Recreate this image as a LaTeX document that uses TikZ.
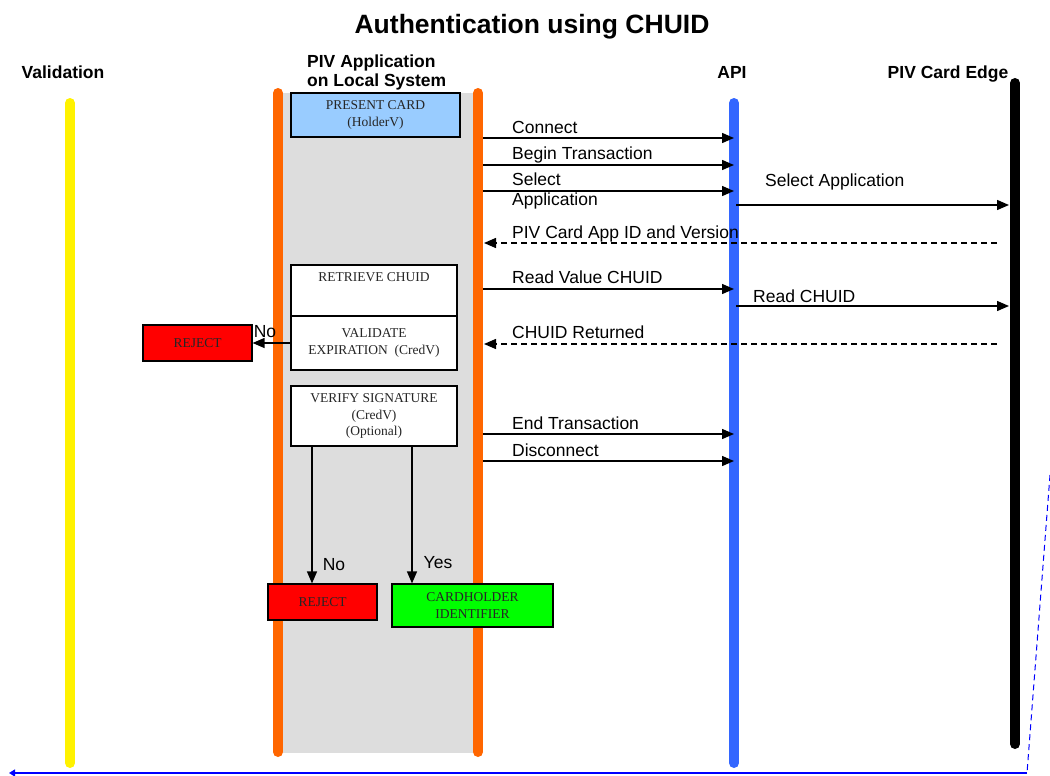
\documentclass[tikz,border=0pt]{standalone}
\usepackage{fontspec}
\setmainfont{Liberation Serif}
\newfontfamily\arial{Liberation Sans}
\usetikzlibrary{arrows.meta}
\definecolor{laneorange}{HTML}{FF6600}
\definecolor{laneblue}{HTML}{3366FF}
\definecolor{boxblue}{HTML}{99CCFF}
\definecolor{boxgray}{HTML}{DDDDDD}
\definecolor{boxgreen}{HTML}{00FF00}
\definecolor{boxred}{HTML}{FF0000}
\begin{document}
\begin{tikzpicture}[x=1pt,y=-1pt,
  lane/.style={line width=10pt,line cap=round},
  box/.style={draw=black,line width=1.2pt,align=center,inner sep=0pt,text=black!85,
    font=\fontsize{13.5}{16.5}\selectfont},
  msg/.style={line width=1.4pt,-{Triangle[length=12pt,width=10pt]}},
  ret/.style={msg,dash pattern=on 6pt off 4pt},
  mlabel/.style={font=\arial\fontsize{17.5}{20}\selectfont,inner sep=0pt,align=left},
  head/.style={font=\arial\bfseries\fontsize{17.5}{19}\selectfont,inner sep=0pt,align=left}]
\useasboundingbox (0,0) rectangle (1050,776);

% title and headers
\node[font=\arial\bfseries\fontsize{26.5}{30}\selectfont,inner sep=0pt,anchor=base] (title) at (532,34) {Authentication using CHUID};
\node[head,anchor=base] (hval) at (63,79) {Validation};
\node[head,anchor=base west] (hpiv) at (307,67) {PIV Application};
\node[head,anchor=base west] (hloc) at (307,86) {on Local System};
\node[head,anchor=base] (hapi) at (732,79) {API};
\node[head,anchor=base] (hedge) at (948,79) {PIV Card Edge};

% lanes
\fill[boxgray] (283,93) rectangle (473,753);
\coordinate (valT) at (70,103); \coordinate (valB) at (70,763);
\coordinate (olT) at (278,93); \coordinate (olB) at (278,752);
\coordinate (orT) at (478,93); \coordinate (orB) at (478,752);
\coordinate (apiT) at (734,103); \coordinate (apiB) at (734,763);
\coordinate (edT) at (1015,83); \coordinate (edB) at (1015,744);
\draw[lane,yellow] (valT) -- (valB);
\draw[lane,laneorange] (olT) -- (olB);
\draw[lane,laneorange] (orT) -- (orB);
\draw[lane,laneblue] (apiT) -- (apiB);
\draw[lane,black] (edT) -- (edB);

% boxes
\node[box,fill=boxblue,minimum width=169pt,minimum height=44pt] (present) at (375.5,115) {PRESENT CARD\\(HolderV)};
\node[box,fill=white,minimum width=166pt,minimum height=51pt,
  label={[font=\fontsize{13.5}{16.5}\selectfont,text=black!85,anchor=north,inner sep=0pt,yshift=-8pt]north:RETRIEVE CHUID}] (retrieve) at (374,290.5) {};
\node[box,fill=white,minimum width=166pt,minimum height=54pt] (validate) at (374,343) {VALIDATE\\EXPIRATION\ \ (CredV)};
\node[box,fill=white,minimum width=166pt,minimum height=60pt] (verify) at (374,416) {VERIFY SIGNATURE\\(CredV)\\(Optional)};
\node[box,fill=boxred,minimum width=109pt,minimum height=36pt] (rej1) at (197.5,343) {REJECT};
\node[box,fill=boxred,minimum width=109pt,minimum height=36pt] (rej2) at (322.5,602) {REJECT};
\node[box,fill=boxgreen,minimum width=161pt,minimum height=43pt] (holder) at (472.5,605.5) {CARDHOLDER\\IDENTIFIER};

% internal flow
\draw[msg] (validate.west) -- (rej1.east);
\node[mlabel,anchor=base] (no1) at (265,337) {No};
\coordinate (vNo) at (312,446); \coordinate (vYes) at (412,446);
\draw[msg] (vNo) -- (vNo |- rej2.north);
\draw[msg] (vYes) -- (vYes |- holder.north);
\node[mlabel,anchor=base] (no2) at (334,570) {No};
\node[mlabel,anchor=base] (yes) at (438,568) {Yes};

% messages
\coordinate (m1s) at (483,138); \coordinate (m1e) at (734,138);
\coordinate (m2s) at (483,165); \coordinate (m2e) at (734,165);
\coordinate (m3s) at (483,191); \coordinate (m3e) at (734,191);
\coordinate (m4s) at (736,205); \coordinate (m4e) at (1009,205);
\coordinate (m5s) at (997,243); \coordinate (m5e) at (484,243);
\coordinate (m6s) at (483,289); \coordinate (m6e) at (734,289);
\coordinate (m7s) at (736,306); \coordinate (m7e) at (1009,306);
\coordinate (m8s) at (997,344); \coordinate (m8e) at (484,344);
\coordinate (m9s) at (483,434); \coordinate (m9e) at (734,434);
\coordinate (m10s) at (483,461); \coordinate (m10e) at (734,461);
\draw[msg] (m1s) -- (m1e);
\draw[msg] (m2s) -- (m2e);
\draw[msg] (m3s) -- (m3e);
\draw[msg] (m4s) -- (m4e);
\draw[ret] (m5s) -- (m5e);
\draw[msg] (m6s) -- (m6e);
\draw[msg] (m7s) -- (m7e);
\draw[ret] (m8s) -- (m8e);
\draw[msg] (m9s) -- (m9e);
\draw[msg] (m10s) -- (m10e);
\node[mlabel,anchor=base west] (l1) at (512,133) {Connect};
\node[mlabel,anchor=base west] (l2) at (512,159) {Begin Transaction};
\node[mlabel,anchor=north west] (l3) at (512,173) {Select\\Application};
\node[mlabel,anchor=base west] (l4) at (765,186) {Select Application};
\node[mlabel,anchor=base west] (l5) at (512,238) {PIV Card App ID and Version};
\node[mlabel,anchor=base west] (l6) at (512,283) {Read Value CHUID};
\node[mlabel,anchor=base west] (l7) at (753,302) {Read CHUID};
\node[mlabel,anchor=base west] (l8) at (512,338) {CHUID Returned};
\node[mlabel,anchor=base west] (l9) at (512,429) {End Transaction};
\node[mlabel,anchor=base west] (l10) at (512,456) {Disconnect};

% feedback line
\coordinate (fbA) at (1050,475); \coordinate (fbB) at (1027,773); \coordinate (fbC) at (9,773);
\draw[blue,line width=1pt,dash pattern=on 6pt off 4pt] (fbA) -- (fbB);
\draw[blue,line width=1.8pt,-{Triangle[length=6pt,width=7pt]}] (fbB) -- (fbC);
\end{tikzpicture}
\end{document}
